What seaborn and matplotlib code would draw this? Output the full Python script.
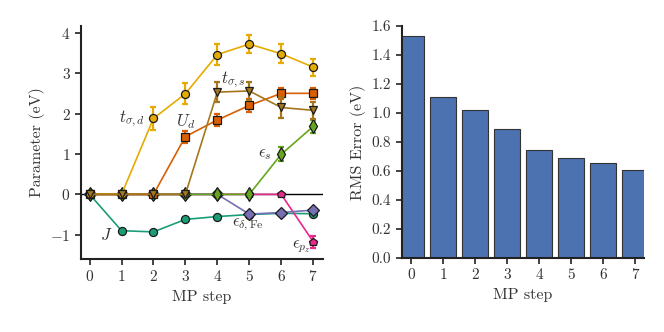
import numpy as np
import pandas as pd
import matplotlib
matplotlib.use("Agg")
import matplotlib.pyplot as plt
import seaborn as sns

steps = [0, 1, 2, 3, 4, 5, 6, 7]

# Parameter trajectories (eV)
J_vals = [0.0, -0.90, -0.93, -0.62, -0.55, -0.50, -0.47, -0.48]
J_err = [0, 0, 0, 0, 0, 0, 0, 0]
epz_vals = [0.0, 0.0, 0.0, 0.0, 0.0, 0.0, 0.0, -1.17]
epz_err = [0, 0, 0, 0, 0, 0, 0, 0.15]
edfe_vals = [0.0, 0.0, 0.0, 0.0, 0.0, -0.49, -0.45, -0.39]
edfe_err = [0, 0, 0, 0, 0, 0, 0, 0]
es_vals = [0.0, 0.0, 0.0, 0.0, 0.0, 0.0, 0.99, 1.68]
es_err = [0, 0, 0, 0, 0, 0, 0.17, 0.17]
Ud_vals = [0.0, 0.0, 0.0, 1.43, 1.84, 2.20, 2.50, 2.50]
Ud_err = [0, 0, 0, 0.15, 0.14, 0.15, 0.14, 0.13]
tsd_vals = [0.0, 0.0, 1.88, 2.49, 3.46, 3.72, 3.48, 3.15]
tsd_err = [0, 0, 0.29, 0.26, 0.25, 0.23, 0.23, 0.21]
tss_vals = [0.0, 0.0, 0.0, 0.0, 2.53, 2.56, 2.15, 2.08]
tss_err = [0, 0, 0, 0, 0.25, 0.23, 0.25, 0.21]

series_labels = [r"$J$", r"$\epsilon_{p_z}$", r"$\epsilon_{\delta,\mathrm{Fe}}$",
                 r"$\epsilon_s$", r"$U_d$", r"$t_{\sigma,d}$", r"$t_{\sigma,s}$"]

# RMS error per MP step
rms_vals = [1.53, 1.11, 1.02, 0.89, 0.745, 0.69, 0.655, 0.605]

sns.set_theme(style="ticks")
plt.rcParams["font.family"] = ["cmr10", "DejaVu Serif"]
plt.rcParams["mathtext.fontset"] = "cm"
plt.rcParams["axes.formatter.use_mathtext"] = True
plt.rcParams["axes.unicode_minus"] = True
plt.rcParams["font.size"] = 11

dark2 = sns.color_palette("Dark2", 8)
c_J, c_pz, c_dfe, c_s, c_U, c_tsd, c_tss = (dark2[0], dark2[3], dark2[2], dark2[4],
                                            dark2[1], dark2[5], dark2[6])

fig = plt.figure(figsize=(6.64, 3.32), dpi=100)
ax1 = fig.add_axes([0.122, 0.22, 0.364, 0.702])
ax2 = fig.add_axes([0.605, 0.223, 0.365, 0.699])

ax1.axhline(0, color="black", lw=1.0, zorder=1)

specs = [
    (J_vals, J_err, c_J, "o", 5.8),
    (epz_vals, epz_err, c_pz, "p", 6.2),
    (edfe_vals, edfe_err, c_dfe, "D", 6.0),
    (es_vals, es_err, c_s, "d", 7.0),
    (Ud_vals, Ud_err, c_U, "s", 6.2),
    (tsd_vals, tsd_err, c_tsd, "o", 5.8),
    (tss_vals, tss_err, c_tss, "v", 6.4),
]
z = 2
for vals, err, col, mk, ms in specs:
    df = pd.DataFrame({"step": steps, "val": vals})
    err_arr = np.array(err)
    mask = err_arr > 0
    if mask.any():
        ax1.errorbar(np.array(steps)[mask], np.array(vals)[mask], yerr=err_arr[mask],
                     fmt="none", ecolor=col, elinewidth=1.6, capsize=2.5,
                     capthick=1.6, zorder=z)
    sns.lineplot(data=df, x="step", y="val", ax=ax1, color=col, lw=1.2,
                 marker=mk, markersize=ms, markeredgecolor="#1a1a1a",
                 markeredgewidth=0.9, zorder=z + 0.5)
    z += 1

label_pos = [(0.52, -1.0), (6.62, -1.3), (4.97, -0.76), (5.5, 0.98),
             (3.0, 1.80), (1.32, 1.88), (4.5, 2.83)]
for lab, (x, y) in zip(series_labels, label_pos):
    ax1.text(x, y, lab, ha="center", va="center", fontsize=12, color="#333333",
             zorder=20)

ax1.set_xlim(-0.27, 7.3)
ax1.set_ylim(-1.6, 4.17)
ax1.set_xticks(steps)
ax1.set_yticks([-1, 0, 1, 2, 3, 4])
ax1.set_xlabel("MP step")
ax1.set_ylabel("Parameter (eV)")

dfb = pd.DataFrame({"step": steps, "rms": rms_vals})
sns.barplot(data=dfb, x="step", y="rms", ax=ax2, color="#4c72b0", saturation=1,
            edgecolor="#333333", linewidth=0.8, width=0.8)
ax2.set_xlim(-0.3, 7.28)
ax2.set_ylim(0, 1.6)
ax2.set_yticks([0.0, 0.2, 0.4, 0.6, 0.8, 1.0, 1.2, 1.4, 1.6])
ax2.set_yticklabels([f"{v:.1f}" for v in [0.0, 0.2, 0.4, 0.6, 0.8, 1.0, 1.2, 1.4, 1.6]])
ax2.set_xlabel("MP step")
ax2.set_ylabel("RMS Error (eV)")

for ax in (ax1, ax2):
    sns.despine(ax=ax)
    for s in ("left", "bottom"):
        ax.spines[s].set_linewidth(1.5)
        ax.spines[s].set_color("#222222")
    ax.tick_params(direction="out", length=4, width=1.2, colors="#222222",
                   labelsize=11, labelcolor="#333333")
    ax.xaxis.label.set_color("#333333")
    ax.yaxis.label.set_color("#333333")
    ax.xaxis.label.set_size(11.5)
    ax.yaxis.label.set_size(11.5)

fig.savefig("out.png", dpi=100)
